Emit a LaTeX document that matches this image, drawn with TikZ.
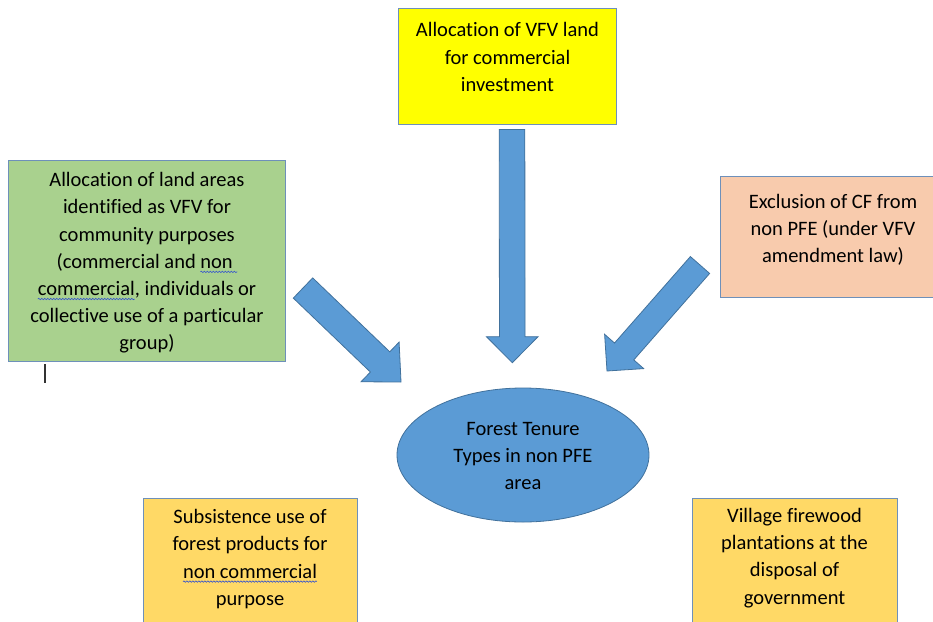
\documentclass[tikz,border=0pt]{standalone}
\usepackage{fontspec}
\setmainfont{Carlito}[Ligatures=NoCommon]
\usetikzlibrary{shapes.geometric,calc,decorations.pathmorphing}
\definecolor{cyellow}{HTML}{FFFF00}
\definecolor{cgreen}{HTML}{A9D18E}
\definecolor{csalmon}{HTML}{F8CBAD}
\definecolor{cgold}{HTML}{FFD966}
\definecolor{cblue}{HTML}{5B9BD5}
\definecolor{cblueedge}{HTML}{41719C}
\definecolor{cboxedge}{HTML}{6E90BA}
\definecolor{cwavy}{HTML}{3050D0}
\newsavebox\wvbox
\newcommand\wavy[1]{\sbox\wvbox{#1}\usebox\wvbox\tikz[overlay,baseline=0pt]{\draw[line width=0.6pt,cwavy,decorate,decoration={snake,amplitude=0.7pt,segment length=3pt}] (-\wd\wvbox,-3.5pt) -- (0pt,-3.5pt);}}
\newcommand\blockarrow[5]{%
  \coordinate (#1h) at ($(#2)!#5!(#1)$);
  \draw[arrowshape] ($(#1)!#3!90:(#2)$) -- ($(#1h)!#3!-90:(#1)$) -- ($(#1h)!#4!-90:(#1)$) -- (#2)
    -- ($(#1h)!#4!90:(#1)$) -- ($(#1h)!#3!90:(#1)$) -- ($(#1)!#3!-90:(#2)$) -- cycle;}
\tikzset{
  box/.style={draw=cboxedge, line width=0.9pt, rectangle, inner sep=0pt},
  txt/.style={align=center, inner sep=0pt, font=\fontsize{20.5}{27.2}\selectfont, text=black},
  arrowshape/.style={fill=cblue, draw=cblueedge, line width=0.8pt, line join=miter},
}
\begin{document}
\begin{tikzpicture}[x=1pt,y=-1pt]
\clip (0,0) rectangle (933,621);
\fill[white] (0,0) rectangle (933,621);
% boxes
\node[box, fill=cyellow, minimum width=218pt, minimum height=116pt] (yb) at (507,66) {};
\node[txt] (yt) at (507.5,57) {Allocation of VFV land\\for commercial\\investment};
\node[box, fill=cgreen, minimum width=277pt, minimum height=201pt] (gb) at (146.5,260.5) {};
\node[txt] (gt) at (147,263) {Allocation of land areas\\identified as VFV for\\community purposes\\ (commercial and \wavy{non }\\\wavy{commercial}, individuals or\\collective use of a particular\\group)};
\node[box, fill=csalmon, minimum width=226pt, minimum height=121pt] (sb) at (833,236.5) {};
\node[txt] (st) at (833,229.5) {Exclusion of CF from\\non PFE (under VFV\\amendment law)};
\node[box, fill=cgold, minimum width=214pt, minimum height=150pt] (lb) at (250,573) {};
\node[txt] (lt) at (250,559) {Subsistence use of\\forest products for\\\wavy{non commercial}\\purpose};
\node[box, fill=cgold, minimum width=205pt, minimum height=150pt] (rb) at (794.5,573) {};
\node[txt] (rt) at (794.5,558) {Village firewood\\plantations at the\\disposal of\\government};
% ellipse
\node[ellipse, fill=cblue, draw=cblueedge, line width=0.8pt, minimum width=252pt, minimum height=134pt, inner sep=0pt] (el) at (523,455) {};
\node[txt] (et) at (523,456) {Forest Tenure\\Types in non PFE\\area};
% arrows
\coordinate (da) at (512,129.5);
\coordinate (dt) at (512.3,362.7);
\blockarrow{da}{dt}{12.8pt}{25.8pt}{26pt}
\coordinate (la) at (303,288);
\coordinate (lt2) at (401,382);
\blockarrow{la}{lt2}{14pt}{27.5pt}{29pt}
\coordinate (ra) at (700,265);
\coordinate (rt2) at (607,371);
\blockarrow{ra}{rt2}{12.8pt}{26pt}{26pt}
% text cursor
\coordinate (c1) at (45,364);
\coordinate (c2) at (45,383);
\draw[line width=1.3pt, black!80] (c1) -- (c2);
\end{tikzpicture}
\end{document}
